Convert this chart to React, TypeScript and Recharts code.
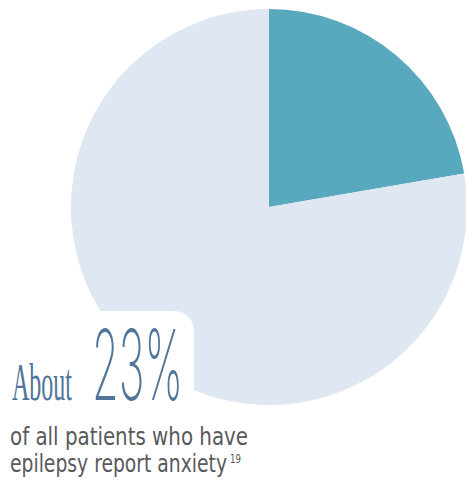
import React from "react";
import { PieChart, Pie, Cell } from "recharts";

const categories = ["Anxiety", "No anxiety"];
const shares = [22.3, 77.7];
const sliceColors = ["#58a8be", "#dfe7f2"];
const headlineWord = "About";
const headlineValue = "23%";
const captionLines = ["of all patients who have", "epilepsy report anxiety"];
const footnote = "19";

const data = categories.map((name, i) => ({ name, value: shares[i] }));

const captionFont = "'DejaVu Sans Condensed', 'Liberation Sans Narrow', sans-serif";

type FitProps = {
  x: number;
  y: number;
  width: number;
  sx: number;
  fontFamily: string;
  fontSize: number;
  fontWeight?: number;
  fill: string;
  children: string;
};

function FitText({ x, y, width, sx, fontFamily, fontSize, fontWeight, fill, children }: FitProps) {
  return (
    <g transform={`translate(${x},${y}) scale(${sx},1)`}>
      <text
        x={0}
        y={0}
        fontFamily={fontFamily}
        fontSize={fontSize}
        fontWeight={fontWeight}
        fill={fill}
        textLength={width / sx}
        lengthAdjust="spacingAndGlyphs"
      >
        {children}
      </text>
    </g>
  );
}

export default function App() {
  return (
    <div style={{ position: "absolute", left: 0, top: 0, width: 466, height: 491, background: "#fff" }}>
      <PieChart width={466} height={491} margin={{ top: 0, right: 0, bottom: 0, left: 0 }}>
        <Pie
          data={data}
          dataKey="value"
          nameKey="name"
          cx={269}
          cy={207}
          outerRadius={198}
          innerRadius={0}
          startAngle={90}
          endAngle={-270}
          stroke="none"
          isAnimationActive={false}
        >
          {data.map((d, i) => (
            <Cell key={d.name} fill={sliceColors[i]} />
          ))}
        </Pie>
      </PieChart>
      <svg
        width={466}
        height={491}
        style={{ position: "absolute", left: 0, top: 0, pointerEvents: "none" }}
      >
        <rect x={-30} y={311} width={224} height={220} rx={20} ry={20} fill="#ffffff" />
        <FitText
          x={12}
          y={400}
          width={60}
          sx={0.46}
          fontFamily="'Liberation Serif', 'DejaVu Serif', serif"
          fontSize={52}
          fill="#4f7699"
        >
          {headlineWord}
        </FitText>
        <FitText
          x={92}
          y={400}
          width={91}
          sx={0.46}
          fontFamily="Inter, 'Liberation Sans', sans-serif"
          fontWeight={200}
          fontSize={97}
          fill="#4f7699"
        >
          {headlineValue}
        </FitText>
        <FitText x={10} y={445} width={238} sx={0.9} fontFamily={captionFont} fontSize={25} fill="#58595b">
          {captionLines[0]}
        </FitText>
        <FitText x={10} y={472} width={217} sx={0.82} fontFamily={captionFont} fontSize={25} fill="#58595b">
          {captionLines[1]}
        </FitText>
        <text
          x={230}
          y={463}
          fontFamily={captionFont}
          fontSize={12}
          fill="#58595b"
          textLength={11}
          lengthAdjust="spacingAndGlyphs"
        >
          {footnote}
        </text>
      </svg>
    </div>
  );
}
